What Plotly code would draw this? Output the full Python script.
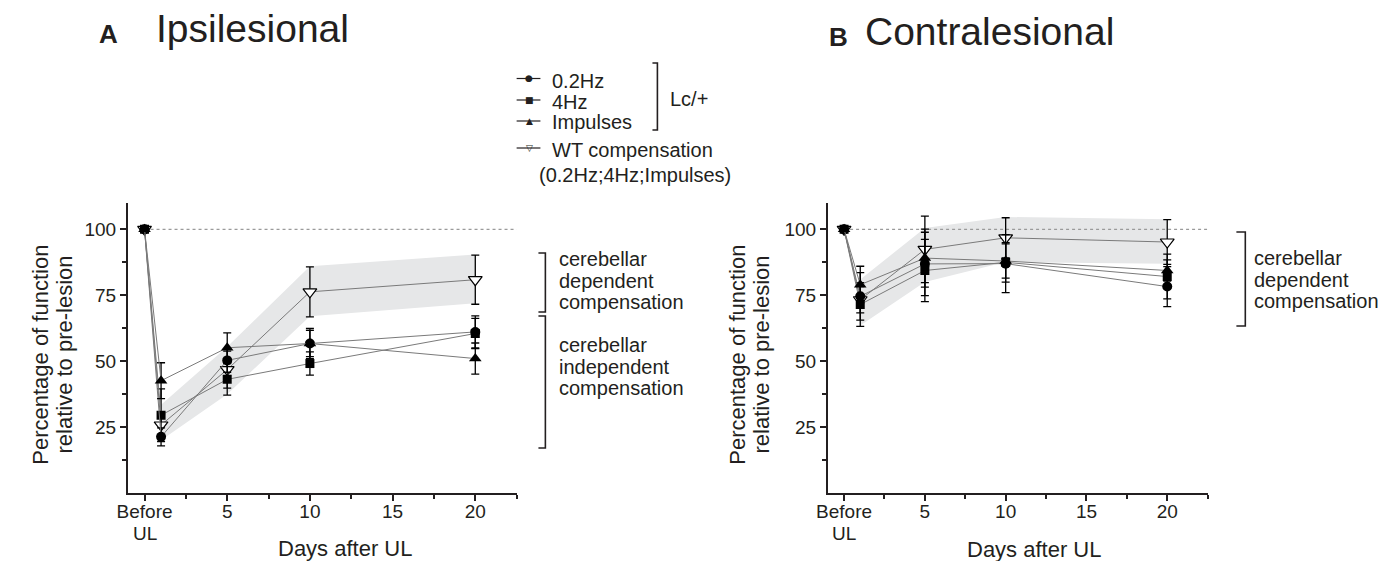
import plotly.graph_objects as go

W, H = 1396, 561
FONT = "Liberation Sans, Arial, Helvetica, sans-serif"
INK = "#231f20"

# ---------------- data ----------------
days = [0, 1, 5, 10, 20]
band_days = [1, 5, 10, 20]
x_tick_vals = [0, 5, 10, 15, 20]
x_tick_text = ["Before", "5", "10", "15", "20"]
x_tick_subtext = "UL"          # second line under "Before"
y_tick_vals = [25, 50, 75, 100]
y_tick_text = ["25", "50", "75", "100"]
series_names = ["0.2Hz", "4Hz", "Impulses", "WT compensation"]
baseline_pct = 100

# Panel A - Ipsilesional
ipsi_02hz = [100, 21.3, 50.3, 56.7, 61.1]
ipsi_02hz_err = [0, 3.4, 4.5, 5.7, 6.1]
ipsi_4hz = [100, 29.5, 43.1, 49.1, 60.5]
ipsi_4hz_err = [0, 10.0, 6.0, 4.4, 5.7]
ipsi_imp = [100, 42.6, 55.1, 56.7, 51.0]
ipsi_imp_err = [0, 6.8, 5.6, 5.0, 5.9]
ipsi_wt = [100, 25.8, 46.8, 76.3, 80.9]
ipsi_wt_err = [0, 4.0, 7.0, 9.5, 9.3]
ipsi_band_upper = [33.5, 55.5, 86.0, 90.5]
ipsi_band_lower = [20.0, 37.5, 67.0, 72.0]

# Panel B - Contralesional
contra_02hz = [100, 74.6, 86.9, 87.0, 78.3]
contra_02hz_err = [0, 9.0, 12.0, 11.0, 7.6]
contra_4hz = [100, 71.5, 84.4, 87.5, 82.1]
contra_4hz_err = [0, 8.3, 11.8, 7.5, 8.5]
contra_imp = [100, 79.0, 89.1, 88.0, 84.4]
contra_imp_err = [0, 7.0, 11.0, 6.5, 4.0]
contra_wt = [100, 73.3, 92.4, 96.8, 95.2]
contra_wt_err = [0, 5.0, 12.6, 7.6, 8.5]
contra_band_upper = [81.0, 100.5, 104.7, 103.8]
contra_band_lower = [63.5, 80.0, 87.6, 87.0]

# ---------------- styles ----------------
styles = {
    "WT compensation": dict(symbol="triangle-down", size=12, color="white"),
    "4Hz": dict(symbol="square", size=9, color="black"),
    "0.2Hz": dict(symbol="circle", size=10, color="black"),
    "Impulses": dict(symbol="triangle-up", size=11, color="black"),
}
draw_order = ["WT compensation", "4Hz", "0.2Hz", "Impulses"]


def px(x):
    return x / W


def py(y):
    return 1 - y / H


fig = go.Figure()

panels = [
    dict(xa="x", ya="y",
         data={"0.2Hz": (ipsi_02hz, ipsi_02hz_err), "4Hz": (ipsi_4hz, ipsi_4hz_err),
               "Impulses": (ipsi_imp, ipsi_imp_err), "WT compensation": (ipsi_wt, ipsi_wt_err)},
         up=ipsi_band_upper, lo=ipsi_band_lower),
    dict(xa="x2", ya="y2",
         data={"0.2Hz": (contra_02hz, contra_02hz_err), "4Hz": (contra_4hz, contra_4hz_err),
               "Impulses": (contra_imp, contra_imp_err), "WT compensation": (contra_wt, contra_wt_err)},
         up=contra_band_upper, lo=contra_band_lower),
]

X_RANGE = [-1, 22.5]
Y_RANGE = [0, 110]

for p in panels:
    # shaded WT band
    fig.add_trace(go.Scatter(
        x=band_days + band_days[::-1], y=p["up"] + p["lo"][::-1],
        fill="toself", fillcolor="#e6e7e8", line=dict(width=0),
        mode="lines", hoverinfo="skip", showlegend=False,
        xaxis=p["xa"], yaxis=p["ya"]))
    # dotted 100% reference line
    fig.add_trace(go.Scatter(
        x=[days[0], X_RANGE[1]], y=[baseline_pct, baseline_pct], mode="lines",
        line=dict(color="#9a9a9a", width=1.2, dash="dot"),
        hoverinfo="skip", showlegend=False, xaxis=p["xa"], yaxis=p["ya"]))
    for name in draw_order:
        vals, err = p["data"][name]
        st = styles[name]
        fig.add_trace(go.Scatter(
            x=days, y=vals, mode="lines+markers", name=name, showlegend=False,
            line=dict(color="#7a7a7a", width=1),
            marker=dict(symbol=st["symbol"], size=st["size"], color=st["color"],
                        line=dict(color="black", width=1.2 if st["color"] == "white" else 0)),
            error_y=dict(type="data", array=err, color="black", thickness=1.3, width=4),
            xaxis=p["xa"], yaxis=p["ya"]))

axis_common = dict(showline=True, linewidth=2, linecolor=INK, showgrid=False,
                   zeroline=False, ticks="outside", ticklen=6, tickwidth=2,
                   tickcolor=INK, tickfont=dict(family=FONT, size=19, color=INK))

xax = dict(axis_common, range=X_RANGE, tickmode="array", tickvals=x_tick_vals,
           ticktext=x_tick_text, ticklabelstandoff=-6,
           minor=dict(tickmode="array", tickvals=[2.5, 7.5, 12.5, 17.5, 22.5],
                      ticks="outside", ticklen=4, tickwidth=1.5, tickcolor=INK))
yax = dict(axis_common, range=Y_RANGE, tickmode="array", tickvals=y_tick_vals,
           ticktext=y_tick_text,
           minor=dict(tickmode="array", tickvals=[12.5, 37.5, 62.5, 87.5],
                      ticks="outside", ticklen=4, tickwidth=1.5, tickcolor=INK))

y_dom = [py(493), py(203)]
fig.update_layout(
    width=W, height=H, margin=dict(l=0, r=0, t=0, b=0),
    paper_bgcolor="white", plot_bgcolor="white", showlegend=False,
    xaxis=dict(xax, domain=[px(117), px(509)], anchor="y"),
    yaxis=dict(yax, domain=y_dom, anchor="x"),
    xaxis2=dict(xax, domain=[px(823), px(1206)], anchor="y2"),
    yaxis2=dict(yax, domain=y_dom, anchor="x2"),
)

annotations = []
shapes = []


def text(t, x, y, size, xanchor="left", angle=0, bold=False):
    annotations.append(dict(
        text=f"<b>{t}</b>" if bold else t, x=px(x), y=py(y), xref="paper", yref="paper",
        xanchor=xanchor, yanchor="middle", showarrow=False, textangle=angle,
        font=dict(family=FONT, size=size, color=INK)))


def bracket(x, y0, y1, serif=7):
    shapes.append(dict(type="path", xref="paper", yref="paper",
                       path=f"M {px(x - serif)} {py(y0)} L {px(x)} {py(y0)} L {px(x)} {py(y1)} L {px(x - serif)} {py(y1)}",
                       line=dict(color=INK, width=1.6)))


# second line of the "Before UL" tick label
for xr in ("x", "x2"):
    annotations.append(dict(text=x_tick_subtext, x=x_tick_vals[0], y=py(533), xref=xr,
                            yref="paper", xanchor="center", yanchor="middle", showarrow=False,
                            font=dict(family=FONT, size=19, color=INK)))

# panel titles
text("A", 97, 34, 26, xanchor="center", bold=True)
text("Ipsilesional", 143, 28, 39)
text("B", 834, 37, 26, xanchor="center", bold=True)
text("Contralesional", 858, 31, 39)

# axis titles
for cx in (28, 731):
    text("Percentage of function", cx, 355, 22, xanchor="center", angle=-90)
for cx in (52, 755):
    text("relative to pre-lesion", cx, 355, 22, xanchor="center", angle=-90)
text("Days after UL", 336, 548, 22, xanchor="center")
text("Days after UL", 1031, 549, 22, xanchor="center")

# brackets with labels
dep_lines = ["cerebellar", "dependent", "compensation"]
indep_lines = ["cerebellar", "independent", "compensation"]
bracket(538, 253, 312)
for i, t in enumerate(dep_lines):
    text(t, 550, 259 + 21.5 * i, 20)
bracket(538, 316, 448)
for i, t in enumerate(indep_lines):
    text(t, 550, 345 + 21.5 * i, 20)
bracket(1244, 232, 326, serif=9)
for i, t in enumerate(dep_lines):
    text(t, 1251, 258 + 21.5 * i, 20)

# manual legend
legend_glyph = {"0.2Hz": "●", "4Hz": "■", "Impulses": "▲", "WT compensation": "▽"}
legend_rows = [78.5, 100, 121, 148]
legend_text_rows = [80.7, 101.7, 121.7, 150]
for name, ly, ty in zip(series_names, legend_rows, legend_text_rows):
    shapes.append(dict(type="line", xref="paper", yref="paper",
                       x0=px(509), x1=px(533), y0=py(ly), y1=py(ly),
                       line=dict(color=INK, width=1.2)))
    annotations.append(dict(text=legend_glyph[name], x=px(521.5), y=py(ly), xref="paper",
                            yref="paper", xanchor="center", yanchor="middle", showarrow=False,
                            font=dict(family="DejaVu Sans", size=9, color=INK)))
    text(name, 543, ty, 20)
text("(0.2Hz;4Hz;Impulses)", 530, 175, 20)
bracket(651, 63, 130, serif=5)
text("Lc/+", 662, 99, 20)

fig.update_layout(annotations=annotations, shapes=shapes)
fig.write_html("out.html")
